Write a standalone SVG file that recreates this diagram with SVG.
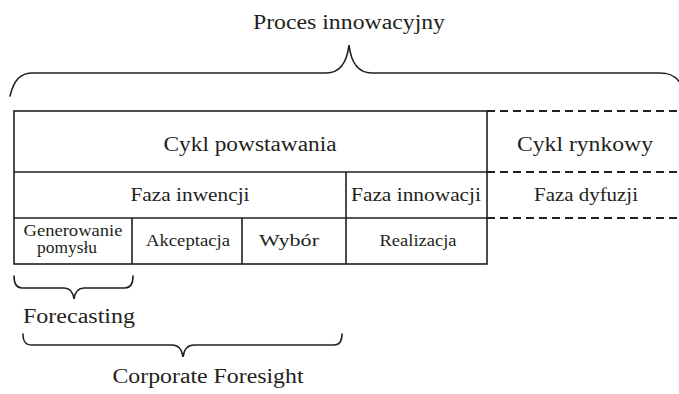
<svg xmlns="http://www.w3.org/2000/svg" width="679" height="394" viewBox="0 0 679 394">
<style>
text{font-family:"Liberation Serif","Times New Roman",serif;fill:#231f20;text-anchor:middle}
.big{font-size:20px}
.mid{font-size:18px}
.sm{font-size:16px}
.ln{stroke:#231f20;stroke-width:1.6;fill:none}
.br{stroke:#231f20;stroke-width:1.6;fill:none;stroke-linecap:round}
.dash{stroke:#231f20;stroke-width:2.2;fill:none;stroke-dasharray:8 5}
</style>
<rect width="679" height="394" fill="#fff"/>
<g id="proces">
<path class="br" d="M10 96 C14 80 20 73 33 73 L326 73 C340 73 347 62 349 45 C351 62 358 73 372 73 L660 73 C670 73 676 76 681 84"/>
<text class="big" x="349" y="29" textLength="192" lengthAdjust="spacingAndGlyphs">Proces innowacyjny</text>
</g>
<g id="table">
<rect class="ln" x="14" y="111" width="473" height="153"/>
<path class="ln" d="M14 172H487M14 218H487M346 172V264M132 218V264M242 218V264"/>
</g>
<g id="connectors">
<path class="dash" d="M487 111H679M487 172H679M487 218H679"/>
</g>
<g id="cykl-powstawania"><text class="big" x="250" y="151" textLength="173" lengthAdjust="spacingAndGlyphs">Cykl powstawania</text></g>
<g id="cykl-rynkowy"><text class="big" x="585" y="151" textLength="136" lengthAdjust="spacingAndGlyphs">Cykl rynkowy</text></g>
<g id="faza-inwencji"><text class="mid" x="190" y="201" textLength="119" lengthAdjust="spacingAndGlyphs">Faza inwencji</text></g>
<g id="faza-innowacji"><text class="mid" x="416" y="201" textLength="130" lengthAdjust="spacingAndGlyphs">Faza innowacji</text></g>
<g id="faza-dyfuzji"><text class="mid" x="586" y="201" textLength="104" lengthAdjust="spacingAndGlyphs">Faza dyfuzji</text></g>
<g id="generowanie"><text class="sm" x="73" y="236" textLength="99" lengthAdjust="spacingAndGlyphs">Generowanie</text><text class="sm" x="67" y="253" textLength="60" lengthAdjust="spacingAndGlyphs">pomysłu</text></g>
<g id="akceptacja"><text class="sm" x="188" y="246" textLength="84" lengthAdjust="spacingAndGlyphs">Akceptacja</text></g>
<g id="wybor"><text class="sm" x="289" y="246" textLength="60" lengthAdjust="spacingAndGlyphs">Wybór</text></g>
<g id="realizacja"><text class="sm" x="418" y="246" textLength="77" lengthAdjust="spacingAndGlyphs">Realizacja</text></g>
<g id="forecasting">
<path class="br" d="M14 276 C14 284 16 288 22 288 L64 288 C70 288 73 292 74 299 C75 292 78 288 84 288 L125 288 C131 288 133 284 133 276"/>
<text class="big" x="79" y="323" textLength="112" lengthAdjust="spacingAndGlyphs">Forecasting</text>
</g>
<g id="corporate-foresight">
<path class="br" d="M23 334 C23 341 25 345 32 345 L172 345 C179 345 182 350 183 357 C184 350 187 345 194 345 L334 345 C340 345 342 341 342 334"/>
<text class="big" x="208" y="383" textLength="191" lengthAdjust="spacingAndGlyphs">Corporate Foresight</text>
</g>
</svg>
